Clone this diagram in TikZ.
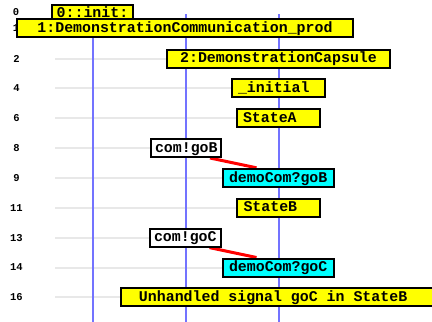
\documentclass[tikz,border=0pt]{standalone}
\usepackage{fontspec}
\setmonofont{Liberation Mono}
\pgfdeclarelayer{bg}
\pgfsetlayers{bg,main}
\definecolor{lifeblue}{RGB}{115,115,255}
\definecolor{gridgray}{RGB}{232,232,232}
\definecolor{sigred}{RGB}{255,0,0}
\definecolor{stateyellow}{RGB}{255,255,0}
\definecolor{recvcyan}{RGB}{0,255,255}
% one full character cell of the monospaced font
\newcommand\cellsp{\hspace*{0.6em}}
\tikzset{
  cell/.style={draw=black, line width=2bp, minimum height=18bp, inner ysep=0pt,
    text height=8.5bp, text depth=0bp,
    font=\ttfamily\bfseries\fontsize{14.9bp}{16bp}\selectfont},
  statebox/.style={cell, fill=stateyellow},
  sendbox/.style={cell, fill=white},
  recvbox/.style={cell, fill=recvcyan},
  rowlabel/.style={font=\ttfamily\bfseries\fontsize{10.5bp}{11bp}\selectfont, inner sep=0pt},
  lifeline/.style={draw=lifeblue, line width=2bp},
  gridline/.style={draw=gridgray, line width=2bp},
  msg/.style={draw=sigred, line width=3bp}
}
\begin{document}
\begin{tikzpicture}[x=1bp, y=-1bp]
\useasboundingbox (0,0) rectangle (432,322);

% lifeline ends
\coordinate (L1t) at (92.5,14);  \coordinate (L1b) at (92.5,322);
\coordinate (L2t) at (185.5,14); \coordinate (L2b) at (185.5,322);
\coordinate (L3t) at (278.5,14); \coordinate (L3b) at (278.5,322);

% row numbers
\node[rowlabel] (r0)  at (16,12)    {0};
\node[rowlabel] (r1)  at (16,28)    {1};
\node[rowlabel] (r2)  at (16.5,58.5)  {2};
\node[rowlabel] (r4)  at (16.5,88.3)  {4};
\node[rowlabel] (r6)  at (16.5,118.2) {6};
\node[rowlabel] (r8)  at (16.5,148)   {8};
\node[rowlabel] (r9)  at (16.5,177.8) {9};
\node[rowlabel] (r11) at (16.5,207.7) {11};
\node[rowlabel] (r13) at (16.5,237.6) {13};
\node[rowlabel] (r14) at (16.5,267.5) {14};
\node[rowlabel] (r16) at (16.5,297.4) {16};

% start of each row's guide line
\coordinate (g2)  at (55,58.5);
\coordinate (g4)  at (55,88.3);
\coordinate (g6)  at (55,118.2);
\coordinate (g8)  at (55,148);
\coordinate (g9)  at (55,177.8);
\coordinate (g11) at (55,207.7);
\coordinate (g13) at (55,237.6);
\coordinate (g14) at (55,267.5);
\coordinate (g16) at (55,297.4);

% trace entries
\node[statebox, inner xsep=0pt, text width=81bp, align=center] (n0) at (92.5,13.5) {0::init:};
\node[statebox, inner xsep=0pt, text width=336bp, align=center] (n1) at (185,28) {1:DemonstrationCommunication\_prod};
\node[statebox, inner xsep=0pt, text width=223bp, align=center] (n2) at (278.5,58.5) {2:DemonstrationCapsule};
\node[statebox, inner xsep=6bp, text width=81bp, align=left] (init) at (278.5,88.3) {\_initial};
\node[statebox, inner xsep=6bp, text width=71bp, align=left] (sA) at (278.5,118.2) {StateA};
\node[sendbox, inner xsep=4bp, text width=62bp, align=left] (cB) at (186,148) {com!goB};
\node[recvbox, inner xsep=6bp, text width=99bp, align=left] (dB) at (278.5,177.8) {demoCom?goB};
\node[statebox, inner xsep=6.5bp, text width=70bp, align=left] (sB) at (278.5,207.7) {StateB};
\node[sendbox, inner xsep=4bp, text width=63bp, align=left] (cC) at (185.5,237.6) {com!goC};
\node[recvbox, inner xsep=6bp, text width=99bp, align=left] (dC) at (278.5,267.5) {demoCom?goC};
\node[statebox, inner xsep=18bp, text width=277bp, align=left] (u) at (277.5,297.4)
  {Unhandled\cellsp signal\cellsp goC\cellsp in\cellsp StateB};

\begin{pgfonlayer}{bg}
  % row guides
  \draw[gridline] (g2) -- (n2.west);
  \draw[gridline] (g4) -- (init.west);
  \draw[gridline] (g6) -- (sA.west);
  \draw[gridline] (g8) -- (cB.west);
  \draw[gridline] (g9) -- (dB.west);
  \draw[gridline] (g11) -- (sB.west);
  \draw[gridline] (g13) -- (cC.west);
  \draw[gridline] (g14) -- (dC.west);
  \draw[gridline] (g16) -- (u.west);
  % lifelines
  \draw[lifeline] (L1t) -- (L1b);
  \draw[lifeline] (L2t) -- (L2b);
  \draw[lifeline] (L3t) -- (L3b);
  % signals
  \draw[msg] ([xshift=24bp]cB.south) -- ([xshift=-22bp]dB.north);
  \draw[msg] ([xshift=24bp]cC.south) -- ([xshift=-22bp]dC.north);
\end{pgfonlayer}
\end{tikzpicture}
\end{document}
